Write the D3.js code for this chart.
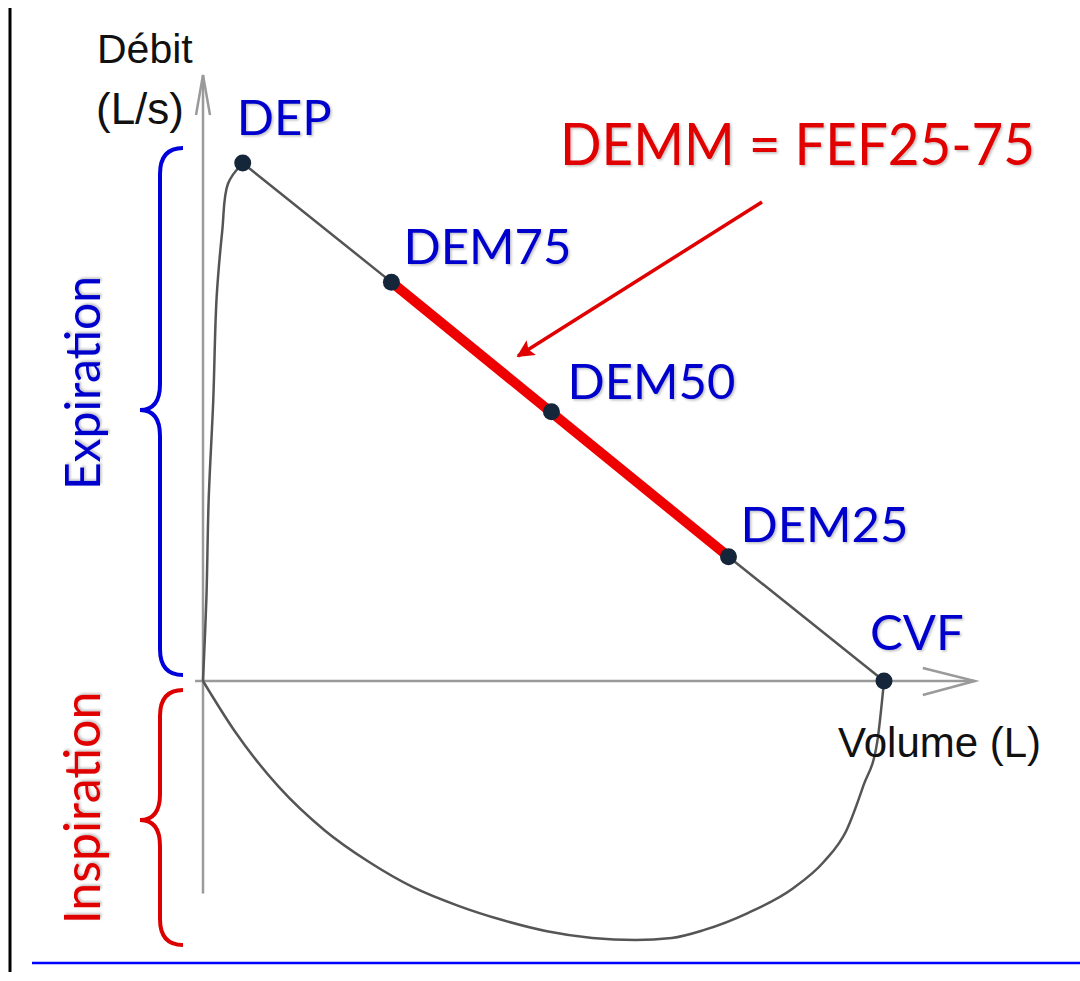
<!DOCTYPE html>
<meta charset="utf-8">
<style>
    body { margin: 0; background: #fff; }
    .axis-line { stroke: #9a9a9a; fill: none; stroke-width: 2.5; }
    .curve { fill: none; stroke: #555; stroke-width: 2.5; }
    .lbl { font-family: Lato, "Open Sans", sans-serif; fill: #0000cc; }
    .title { font-family: "Liberation Sans", Arial, sans-serif; fill: #111; }
</style>
<body>
<div id="chart"></div>
<script src="https://d3js.org/d3.v7.min.js"></script>
<script type="text/javascript">

    // key points of the expiratory limb (volume L, flow L/s)
    var pointNames = ["DEP", "DEM75", "DEM50", "DEM25", "CVF"];
    var pointVolume = [0.35, 1.66, 3.07, 4.63, 6.0];
    var pointFlow = [10, 7.7, 5.2, 2.4, 0];

    // rising part of the expiration, origin -> DEP
    var riseVolume = [0, 0.03, 0.05, 0.09, 0.12, 0.17, 0.22, 0.35];
    var riseFlow = [0, 1.6, 3.5, 5.4, 7.4, 8.7, 9.6, 10];

    // inspiratory limb, origin -> CVF
    var inspVolume = [0, 0.28, 0.67, 1.07, 1.46, 1.85, 2.25, 2.63, 3.03, 3.43, 3.81, 4.13, 4.41, 4.80, 5.20, 5.47, 5.67, 5.82, 5.94, 6.0];
    var inspFlow = [0, -0.97, -2.05, -2.88, -3.49, -3.98, -4.34, -4.61, -4.83, -4.96, -5.0, -4.96, -4.81, -4.48, -4.0, -3.49, -2.88, -2.01, -1.18, 0];

    // DEMM segment goes from DEM75 to DEM25
    var demmFrom = "DEM75", demmTo = "DEM25";

    var svg_dx = 1080, svg_dy = 981;

    var x = d3.scaleLinear().domain([0, 6]).range([203, 884]),
        y = d3.scaleLinear().domain([0, 10]).range([681, 163]);

    var svg = d3.select("#chart")
        .append("svg")
        .attr("width", svg_dx)
        .attr("height", svg_dy);

    var defs = svg.append("defs");

    defs.append("filter")
        .attr("id", "shadow")
        .append("feDropShadow")
        .attr("dx", 1.5).attr("dy", 1.5)
        .attr("stdDeviation", 1.2)
        .attr("flood-color", "#000")
        .attr("flood-opacity", 0.25);

    defs.append("marker")
        .attr("id", "redhead")
        .attr("viewBox", "0 0 10 10")
        .attr("refX", 9).attr("refY", 5)
        .attr("markerWidth", 7).attr("markerHeight", 5)
        .attr("markerUnits", "strokeWidth")
        .attr("orient", "auto")
        .append("path")
        .attr("d", "M0,0 L10,5 L0,10 L2,5 Z")
        .attr("fill", "#e00000");

    // page frame lines
    svg.append("line")
        .attr("x1", 10).attr("x2", 10)
        .attr("y1", 8).attr("y2", 972)
        .attr("stroke", "#000").attr("stroke-width", 3);

    svg.append("line")
        .attr("x1", 32).attr("x2", 1080)
        .attr("y1", 963).attr("y2", 963)
        .attr("stroke", "#0000ff").attr("stroke-width", 2.5);

    // axes
    var axes = svg.append("g");

    axes.append("line")
        .attr("class", "axis-line")
        .attr("x1", x(0)).attr("x2", x(0))
        .attr("y1", y(-4.1)).attr("y2", y(11.7));

    axes.append("path")
        .attr("class", "axis-line")
        .attr("d", "M" + (x(0) - 7) + "," + (y(11.7) + 40) + "L" + x(0) + "," + y(11.7) + "L" + (x(0) + 7) + "," + (y(11.7) + 40));

    axes.append("line")
        .attr("class", "axis-line")
        .attr("x1", x(-0.07)).attr("x2", x(6.8))
        .attr("y1", y(0)).attr("y2", y(0));

    axes.append("path")
        .attr("class", "axis-line")
        .attr("d", "M" + (x(6.8) - 52) + "," + (y(0) - 13) + "L" + x(6.8) + "," + y(0) + "L" + (x(6.8) - 52) + "," + (y(0) + 14));

    // curves
    var line = d3.line()
        .x(function (d) { return x(d[0]); })
        .y(function (d) { return y(d[1]); });

    var smooth = d3.line()
        .curve(d3.curveMonotoneX)
        .x(function (d) { return x(d[0]); })
        .y(function (d) { return y(d[1]); });

    var rise = d3.zip(riseVolume, riseFlow),
        insp = d3.zip(inspVolume, inspFlow),
        pts = pointNames.map(function (n, i) {
            return { name: n, v: pointVolume[i], f: pointFlow[i] };
        });

    svg.append("path").attr("class", "curve")
        .attr("d", line.curve(d3.curveCatmullRom.alpha(0.5))(rise));
    line.curve(d3.curveLinear);
    svg.append("path").attr("class", "curve").attr("d", smooth(insp));
    svg.append("path").attr("class", "curve")
        .attr("d", line(pts.map(function (p) { return [p.v, p.f]; })));

    // DEMM thick red segment
    var a = pts[pointNames.indexOf(demmFrom)],
        b = pts[pointNames.indexOf(demmTo)];

    svg.append("line")
        .attr("x1", x(a.v)).attr("y1", y(a.f))
        .attr("x2", x(b.v)).attr("y2", y(b.f))
        .attr("stroke", "#ee0000")
        .attr("stroke-width", 10);

    // points
    svg.append("g").selectAll("circle")
        .data(pts)
        .enter()
        .append("circle")
        .attr("cx", function (d) { return x(d.v); })
        .attr("cy", function (d) { return y(d.f); })
        .attr("r", 8.5)
        .attr("fill", "#16263a");

    // label offsets (px) from each point
    var labelOffset = {
        DEP: [-6, -28], DEM75: [12, -18], DEM50: [16, -13], DEM25: [12, -15], CVF: [-14, -31]
    };

    svg.append("g").selectAll("text")
        .data(pts)
        .enter()
        .append("text")
        .attr("class", "lbl")
        .attr("filter", "url(#shadow)")
        .attr("x", function (d) { return x(d.v) + labelOffset[d.name][0]; })
        .attr("y", function (d) { return y(d.f) + labelOffset[d.name][1]; })
        .style("font-size", "49px")
        .text(function (d) { return d.name; });

    // DEMM annotation
    svg.append("text")
        .attr("class", "lbl")
        .attr("filter", "url(#shadow)")
        .attr("x", 560).attr("y", 165)
        .attr("textLength", 475)
        .attr("lengthAdjust", "spacingAndGlyphs")
        .style("font-size", "58px")
        .style("fill", "#e00000")
        .text("DEMM = FEF25-75");

    svg.append("line")
        .attr("x1", 762).attr("y1", 202)
        .attr("x2", 518).attr("y2", 356)
        .attr("stroke", "#e00000")
        .attr("stroke-width", 3.5)
        .attr("marker-end", "url(#redhead)");

    // axis titles
    svg.append("text").attr("class", "title")
        .attr("x", 97).attr("y", 63)
        .style("font-size", "41px").text("Débit");

    svg.append("text").attr("class", "title")
        .attr("x", 96).attr("y", 124)
        .style("font-size", "44px").text("(L/s)");

    svg.append("text").attr("class", "title")
        .attr("x", 838).attr("y", 757)
        .style("font-size", "42px").text("Volume (L)");

    // braces
    function brace(x0, xv, xt, yTop, yTip, yBot, r) {
        return "M" + x0 + "," + yTop +
            "Q" + xv + "," + yTop + " " + xv + "," + (yTop + r) +
            "L" + xv + "," + (yTip - r) +
            "Q" + xv + "," + yTip + " " + xt + "," + yTip +
            "Q" + xv + "," + yTip + " " + xv + "," + (yTip + r) +
            "L" + xv + "," + (yBot - r) +
            "Q" + xv + "," + yBot + " " + x0 + "," + yBot;
    }

    svg.append("path")
        .attr("d", brace(183, 160, 140, 148, 410, 675, 26))
        .attr("fill", "none").attr("stroke", "#0000dd").attr("stroke-width", 4);

    svg.append("path")
        .attr("d", brace(183, 160, 140, 690, 820, 945, 26))
        .attr("fill", "none").attr("stroke", "#dd0000").attr("stroke-width", 4);

    svg.append("text")
        .attr("class", "lbl")
        .attr("filter", "url(#shadow)")
        .attr("transform", "translate(100,383) rotate(-90)")
        .attr("text-anchor", "middle")
        .style("font-size", "48px")
        .text("Expiration");

    svg.append("text")
        .attr("class", "lbl")
        .attr("filter", "url(#shadow)")
        .attr("transform", "translate(100,808) rotate(-90)")
        .attr("text-anchor", "middle")
        .style("font-size", "50px")
        .style("fill", "#e00000")
        .text("Inspiration");

</script>
</body>
